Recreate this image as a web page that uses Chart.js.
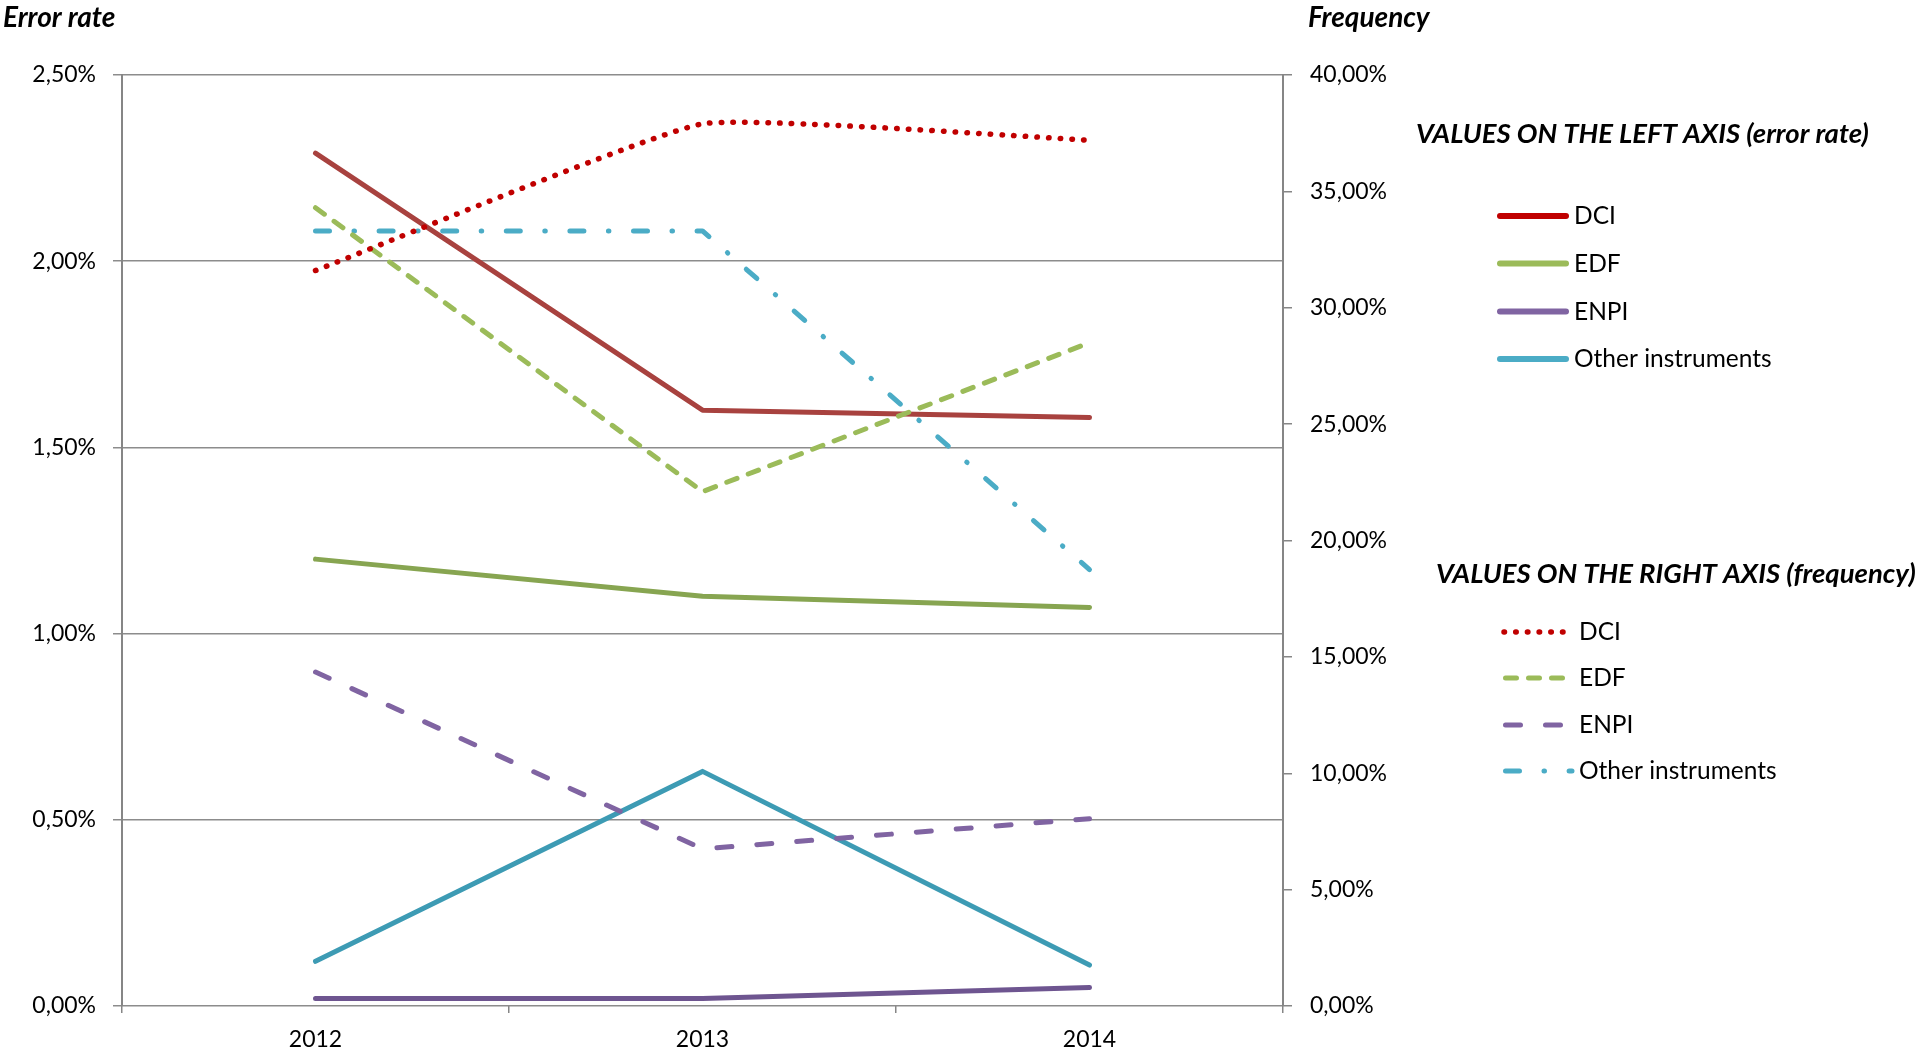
<!DOCTYPE html>
<html>
<head>
<meta charset="utf-8">
<title>Error rate and frequency by instrument, 2012-2014</title>
<script src="https://cdn.jsdelivr.net/npm/chart.js@4.4.1/dist/chart.umd.min.js"></script>
<style>
  html, body { margin: 0; padding: 0; background: #ffffff; overflow: hidden; }
  #wrap { position: relative; width: 1921px; height: 1055px; }
  canvas { display: block; }
</style>
</head>
<body>
<div id="wrap"><canvas id="chart" width="1921" height="1055"></canvas></div>
<script>
// ---- data ----
const years = ['2012', '2013', '2014'];
const instruments = ['DCI', 'EDF', 'ENPI', 'Other instruments'];

// Error rate, left axis (%)
const errorDCI   = [2.29, 1.60, 1.58];
const errorEDF   = [1.20, 1.10, 1.07];
const errorENPI  = [0.02, 0.02, 0.05];
const errorOther = [0.12, 0.63, 0.11];

// Frequency, right axis (%)
const freqDCI   = [31.6, 37.9, 37.2];
const freqEDF   = [34.3, 22.1, 28.5];
const freqENPI  = [14.35, 6.75, 8.05];
const freqOther = [33.3, 33.3, 18.75];

const leftAxisTitle  = 'Error rate';
const rightAxisTitle = 'Frequency';
const leftLegendTitle  = 'VALUES ON THE LEFT AXIS (error rate)';
const rightLegendTitle = 'VALUES ON THE RIGHT AXIS (frequency)';

// ---- styles ----
const FONT = 'Lato, "Open Sans", sans-serif';
const GRID = '#8c8c8c';
const AXIS = '#868686';
const legendColors = ['#C00000', '#9BBB59', '#8064A2', '#4BACC6'];
const solidColors  = ['#A8423F', '#87A551', '#6E5590', '#3D9BB4'];
const freqDashes   = [[0.5, 11.2], [11, 12], [15, 25], [14, 24.5, 0.5, 24.6]];
const freqWidths   = [5.5, 5, 5, 5];

const fmtPct = v => v.toFixed(2).replace('.', ',') + '%';

function solidSet(label, data, i) {
  return {
    label, data, yAxisID: 'y', order: 2,
    borderColor: solidColors[i], backgroundColor: solidColors[i],
    borderWidth: 5, borderCapStyle: 'round', borderJoinStyle: 'round',
    pointRadius: 0, tension: 0, fill: false
  };
}
function freqSet(label, data, i) {
  return {
    label, data, yAxisID: 'y2', order: 1,
    borderColor: legendColors[i], backgroundColor: legendColors[i],
    borderWidth: freqWidths[i], borderCapStyle: 'round', borderJoinStyle: 'round',
    borderDash: freqDashes[i],
    pointRadius: 0, tension: i === 0 ? 0.12 : 0, fill: false
  };
}

// Titles and the two hand-laid legends
const overlay = {
  id: 'overlay',
  afterDraw(chart) {
    const ctx = chart.ctx;
    ctx.save();
    ctx.fillStyle = '#000';
    ctx.textAlign = 'left';
    ctx.textBaseline = 'alphabetic';

    ctx.font = 'italic bold 28px ' + FONT;
    ctx.fillText(leftAxisTitle, 3, 27);
    ctx.fillText(rightAxisTitle, 1308, 27);
    ctx.font = 'italic bold 27.5px ' + FONT;
    ctx.fillText(leftLegendTitle, 1416, 143);
    ctx.fillText(rightLegendTitle, 1436, 583);

    ctx.font = '24.5px ' + FONT;
    const leftRows = [216, 263.5, 311.5, 359];
    const rightRows = [632, 678, 725, 771];
    ctx.lineCap = 'round';

    instruments.forEach((name, i) => {
      // solid sample (left axis series)
      let y = leftRows[i];
      ctx.strokeStyle = legendColors[i];
      ctx.lineWidth = 6;
      ctx.setLineDash([]);
      ctx.beginPath(); ctx.moveTo(1500, y); ctx.lineTo(1566, y); ctx.stroke();
      ctx.fillText(name, 1574, y + 8);

      // patterned sample (right axis series)
      y = rightRows[i];
      ctx.lineWidth = freqWidths[i];
      ctx.setLineDash(freqDashes[i]);
      ctx.beginPath(); ctx.moveTo(i === 0 ? 1504 : 1505.5, y); ctx.lineTo(i === 3 ? 1572 : 1565, y); ctx.stroke();
      ctx.setLineDash([]);
      ctx.fillText(name, 1579, y + 8);
    });
    ctx.restore();
  }
};

new Chart(document.getElementById('chart'), {
  type: 'line',
  data: {
    labels: years,
    datasets: [
      solidSet(instruments[0], errorDCI, 0),
      solidSet(instruments[1], errorEDF, 1),
      solidSet(instruments[2], errorENPI, 2),
      solidSet(instruments[3], errorOther, 3),
      freqSet(instruments[0], freqDCI, 0),
      freqSet(instruments[1], freqEDF, 1),
      freqSet(instruments[2], freqENPI, 2),
      freqSet(instruments[3], freqOther, 3)
    ]
  },
  options: {
    responsive: false,
    animation: false,
    layout: { padding: { top: 75, left: 0, right: 0, bottom: 0 } },
    plugins: { legend: { display: false }, tooltip: { enabled: false } },
    scales: {
      x: {
        offset: true,
        grid: { offset: true, drawOnChartArea: false, tickLength: 7, color: AXIS, lineWidth: 1.5 },
        border: { display: false },
        ticks: { font: { family: FONT, size: 23 }, color: '#000', padding: 13, maxRotation: 0 },
        afterFit(s) { s.height = 49; }
      },
      y: {
        position: 'left', min: 0, max: 2.5,
        ticks: { stepSize: 0.5, callback: v => fmtPct(v), font: { family: FONT, size: 23 }, color: '#000', padding: 17 },
        grid: { color: GRID, lineWidth: 1.5, tickLength: 9 },
        border: { color: AXIS, width: 2 },
        afterFit(s) { s.width = 122; }
      },
      y2: {
        position: 'right', min: 0, max: 40,
        ticks: { stepSize: 5, callback: v => fmtPct(v), font: { family: FONT, size: 23 }, color: '#000', padding: 18 },
        grid: { drawOnChartArea: false, color: AXIS, lineWidth: 1.5, tickLength: 9 },
        border: { color: AXIS, width: 2 },
        afterFit(s) { s.width = 638; }
      }
    }
  },
  plugins: [overlay]
});
</script>
</body>
</html>
